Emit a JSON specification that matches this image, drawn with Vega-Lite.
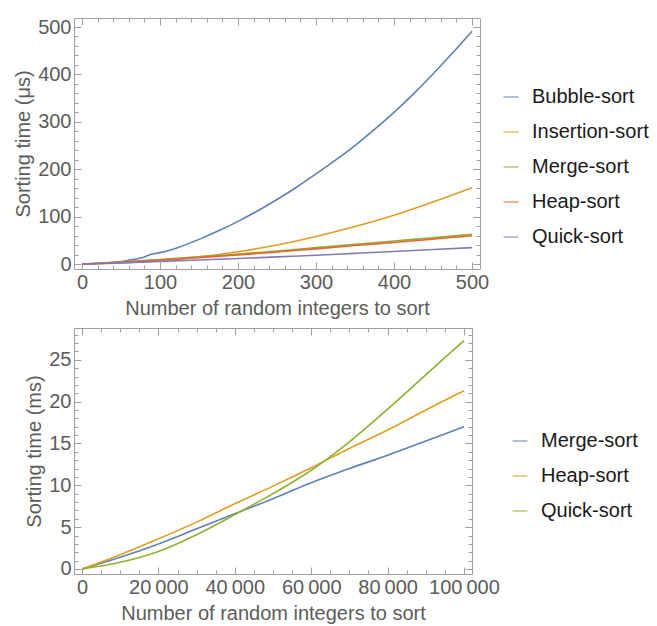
{
  "$schema": "https://vega.github.io/schema/vega-lite/v6.json",
  "padding": {"left": 13, "top": 16, "right": 0, "bottom": 0},
  "background": "white",
  "datasets": {
    "top": [
      {"algo": "Bubble-sort", "n": 0, "t": 0}, {"algo": "Bubble-sort", "n": 20, "t": 1}, {"algo": "Bubble-sort", "n": 40, "t": 3.5}, {"algo": "Bubble-sort", "n": 60, "t": 8}, {"algo": "Bubble-sort", "n": 80, "t": 15}, {"algo": "Bubble-sort", "n": 90, "t": 21}, {"algo": "Bubble-sort", "n": 100, "t": 24}, {"algo": "Bubble-sort", "n": 125, "t": 36}, {"algo": "Bubble-sort", "n": 150, "t": 52}, {"algo": "Bubble-sort", "n": 175, "t": 70}, {"algo": "Bubble-sort", "n": 200, "t": 90}, {"algo": "Bubble-sort", "n": 225, "t": 112}, {"algo": "Bubble-sort", "n": 250, "t": 136}, {"algo": "Bubble-sort", "n": 275, "t": 162}, {"algo": "Bubble-sort", "n": 300, "t": 190}, {"algo": "Bubble-sort", "n": 325, "t": 219}, {"algo": "Bubble-sort", "n": 350, "t": 250}, {"algo": "Bubble-sort", "n": 375, "t": 284}, {"algo": "Bubble-sort", "n": 400, "t": 320}, {"algo": "Bubble-sort", "n": 425, "t": 359}, {"algo": "Bubble-sort", "n": 450, "t": 401}, {"algo": "Bubble-sort", "n": 475, "t": 445}, {"algo": "Bubble-sort", "n": 500, "t": 491},
      {"algo": "Insertion-sort", "n": 0, "t": 0}, {"algo": "Insertion-sort", "n": 50, "t": 2}, {"algo": "Insertion-sort", "n": 100, "t": 7}, {"algo": "Insertion-sort", "n": 150, "t": 15}, {"algo": "Insertion-sort", "n": 200, "t": 26}, {"algo": "Insertion-sort", "n": 250, "t": 40}, {"algo": "Insertion-sort", "n": 300, "t": 58}, {"algo": "Insertion-sort", "n": 350, "t": 79}, {"algo": "Insertion-sort", "n": 400, "t": 103}, {"algo": "Insertion-sort", "n": 450, "t": 131}, {"algo": "Insertion-sort", "n": 500, "t": 161},
      {"algo": "Merge-sort", "n": 0, "t": 0}, {"algo": "Merge-sort", "n": 50, "t": 4}, {"algo": "Merge-sort", "n": 100, "t": 9.5}, {"algo": "Merge-sort", "n": 150, "t": 15}, {"algo": "Merge-sort", "n": 200, "t": 21}, {"algo": "Merge-sort", "n": 250, "t": 27.5}, {"algo": "Merge-sort", "n": 300, "t": 34.5}, {"algo": "Merge-sort", "n": 350, "t": 41.5}, {"algo": "Merge-sort", "n": 400, "t": 48.5}, {"algo": "Merge-sort", "n": 450, "t": 55.5}, {"algo": "Merge-sort", "n": 500, "t": 62.5},
      {"algo": "Heap-sort", "n": 0, "t": 0}, {"algo": "Heap-sort", "n": 50, "t": 3.5}, {"algo": "Heap-sort", "n": 100, "t": 8.5}, {"algo": "Heap-sort", "n": 150, "t": 13.5}, {"algo": "Heap-sort", "n": 200, "t": 19}, {"algo": "Heap-sort", "n": 250, "t": 25.5}, {"algo": "Heap-sort", "n": 300, "t": 32}, {"algo": "Heap-sort", "n": 350, "t": 39}, {"algo": "Heap-sort", "n": 400, "t": 45.5}, {"algo": "Heap-sort", "n": 450, "t": 52.5}, {"algo": "Heap-sort", "n": 500, "t": 59.5},
      {"algo": "Quick-sort", "n": 0, "t": 0}, {"algo": "Quick-sort", "n": 50, "t": 2.5}, {"algo": "Quick-sort", "n": 100, "t": 5.5}, {"algo": "Quick-sort", "n": 150, "t": 8.5}, {"algo": "Quick-sort", "n": 200, "t": 11.5}, {"algo": "Quick-sort", "n": 250, "t": 15}, {"algo": "Quick-sort", "n": 300, "t": 18.5}, {"algo": "Quick-sort", "n": 350, "t": 22.5}, {"algo": "Quick-sort", "n": 400, "t": 26.5}, {"algo": "Quick-sort", "n": 450, "t": 30.5}, {"algo": "Quick-sort", "n": 500, "t": 34.5}
    ],
    "bottom": [
      {"algo": "Merge-sort", "n": 0, "t": 0}, {"algo": "Merge-sort", "n": 10000, "t": 1.4}, {"algo": "Merge-sort", "n": 20000, "t": 3.0}, {"algo": "Merge-sort", "n": 30000, "t": 4.8}, {"algo": "Merge-sort", "n": 40000, "t": 6.6}, {"algo": "Merge-sort", "n": 50000, "t": 8.4}, {"algo": "Merge-sort", "n": 60000, "t": 10.3}, {"algo": "Merge-sort", "n": 70000, "t": 12.0}, {"algo": "Merge-sort", "n": 80000, "t": 13.6}, {"algo": "Merge-sort", "n": 90000, "t": 15.3}, {"algo": "Merge-sort", "n": 100000, "t": 17.0},
      {"algo": "Heap-sort", "n": 0, "t": 0}, {"algo": "Heap-sort", "n": 10000, "t": 1.7}, {"algo": "Heap-sort", "n": 20000, "t": 3.6}, {"algo": "Heap-sort", "n": 30000, "t": 5.6}, {"algo": "Heap-sort", "n": 40000, "t": 7.8}, {"algo": "Heap-sort", "n": 50000, "t": 9.9}, {"algo": "Heap-sort", "n": 60000, "t": 12.1}, {"algo": "Heap-sort", "n": 70000, "t": 14.4}, {"algo": "Heap-sort", "n": 80000, "t": 16.6}, {"algo": "Heap-sort", "n": 90000, "t": 19.0}, {"algo": "Heap-sort", "n": 100000, "t": 21.3},
      {"algo": "Quick-sort", "n": 0, "t": 0}, {"algo": "Quick-sort", "n": 10000, "t": 0.8}, {"algo": "Quick-sort", "n": 20000, "t": 2.1}, {"algo": "Quick-sort", "n": 30000, "t": 4.1}, {"algo": "Quick-sort", "n": 40000, "t": 6.5}, {"algo": "Quick-sort", "n": 50000, "t": 9.0}, {"algo": "Quick-sort", "n": 60000, "t": 11.8}, {"algo": "Quick-sort", "n": 70000, "t": 15.2}, {"algo": "Quick-sort", "n": 80000, "t": 19.1}, {"algo": "Quick-sort", "n": 90000, "t": 23.2}, {"algo": "Quick-sort", "n": 100000, "t": 27.3}
    ]
  },
  "vconcat": [
    {
      "width": 406,
      "height": 251,
      "data": {"name": "top"},
      "layer": [
        {
          "mark": {"type": "line", "strokeWidth": 1.6, "interpolate": "monotone"},
          "encoding": {
            "x": {"field": "n", "type": "quantitative", "scale": {"domain": [-10.3, 510.3], "nice": false, "zero": false},
              "axis": {"orient": "bottom", "values": [0, 100, 200, 300, 400, 500], "tickSize": -7, "labelPadding": 10, "labelFlush": false, "title": "Number of random integers to sort", "titlePadding": 6}},
            "y": {"field": "t", "type": "quantitative", "scale": {"domain": [-10.5, 519], "nice": false, "zero": false},
              "axis": {"orient": "left", "values": [0, 100, 200, 300, 400, 500], "tickSize": -7, "labelPadding": 10, "labelFlush": false, "title": "Sorting time (μs)", "titlePadding": 4}},
            "color": {"field": "algo", "type": "nominal",
              "scale": {"domain": ["Bubble-sort", "Insertion-sort", "Merge-sort", "Heap-sort", "Quick-sort"], "range": ["#5E81B5", "#E19C24", "#8FB032", "#EB6235", "#8778B3"]},
              "legend": {"orient": "none", "legendX": 427, "legendY": 69, "title": null}}
          }
        },
        {
          "mark": {"type": "point", "opacity": 0},
          "encoding": {
            "x": {"field": "n", "type": "quantitative", "axis": {"orient": "bottom", "values": [0, 20, 40, 60, 80, 100, 120, 140, 160, 180, 200, 220, 240, 260, 280, 300, 320, 340, 360, 380, 400, 420, 440, 460, 480, 500], "tickSize": -4, "labels": false, "title": null}},
            "y": {"field": "t", "type": "quantitative", "axis": {"orient": "left", "values": [0, 20, 40, 60, 80, 100, 120, 140, 160, 180, 200, 220, 240, 260, 280, 300, 320, 340, 360, 380, 400, 420, 440, 460, 480, 500], "tickSize": -4, "labels": false, "title": null}}
          }
        },
        {
          "mark": {"type": "point", "opacity": 0},
          "encoding": {
            "x": {"field": "n", "type": "quantitative", "axis": {"orient": "top", "values": [0, 100, 200, 300, 400, 500], "tickSize": -7, "labels": false, "title": null}},
            "y": {"field": "t", "type": "quantitative", "axis": {"orient": "right", "values": [0, 100, 200, 300, 400, 500], "tickSize": -7, "labels": false, "title": null}}
          }
        },
        {
          "mark": {"type": "point", "opacity": 0},
          "encoding": {
            "x": {"field": "n", "type": "quantitative", "axis": {"orient": "top", "values": [0, 20, 40, 60, 80, 100, 120, 140, 160, 180, 200, 220, 240, 260, 280, 300, 320, 340, 360, 380, 400, 420, 440, 460, 480, 500], "tickSize": -4, "labels": false, "title": null}},
            "y": {"field": "t", "type": "quantitative", "axis": {"orient": "right", "values": [0, 20, 40, 60, 80, 100, 120, 140, 160, 180, 200, 220, 240, 260, 280, 300, 320, 340, 360, 380, 400, 420, 440, 460, 480, 500], "tickSize": -4, "labels": false, "title": null}}
          }
        }
      ],
      "resolve": {"axis": {"x": "independent", "y": "independent"}}
    },
    {
      "width": 398,
      "height": 246,
      "data": {"name": "bottom"},
      "layer": [
        {
          "mark": {"type": "line", "strokeWidth": 1.6, "interpolate": "monotone"},
          "encoding": {
            "x": {"field": "n", "type": "quantitative", "scale": {"domain": [-2100, 102100], "nice": false, "zero": false},
              "axis": {"orient": "bottom", "values": [0, 20000, 40000, 60000, 80000, 100000], "tickSize": -7, "labelPadding": 10, "labelFlush": false, "labelOverlap": false, "labelExpr": "replace(format(datum.value, ','), ',', '\u2009')", "title": "Number of random integers to sort", "titlePadding": 6}},
            "y": {"field": "t", "type": "quantitative", "scale": {"domain": [-0.6, 28.8], "nice": false, "zero": false},
              "axis": {"orient": "left", "values": [0, 5, 10, 15, 20, 25], "tickSize": -7, "labelPadding": 10, "labelFlush": false, "title": "Sorting time (ms)", "titlePadding": 4}},
            "color": {"field": "algo", "type": "nominal",
              "scale": {"domain": ["Merge-sort", "Heap-sort", "Quick-sort"], "range": ["#5E81B5", "#E19C24", "#8FB032"]},
              "legend": {"orient": "none", "legendX": 436, "legendY": 103, "title": null}}
          }
        },
        {
          "mark": {"type": "point", "opacity": 0},
          "encoding": {
            "x": {"field": "n", "type": "quantitative", "axis": {"orient": "bottom", "values": [0, 5000, 10000, 15000, 20000, 25000, 30000, 35000, 40000, 45000, 50000, 55000, 60000, 65000, 70000, 75000, 80000, 85000, 90000, 95000, 100000], "tickSize": -4, "labels": false, "title": null}},
            "y": {"field": "t", "type": "quantitative", "axis": {"orient": "left", "values": [0, 1, 2, 3, 4, 5, 6, 7, 8, 9, 10, 11, 12, 13, 14, 15, 16, 17, 18, 19, 20, 21, 22, 23, 24, 25, 26, 27, 28], "tickSize": -4, "labels": false, "title": null}}
          }
        },
        {
          "mark": {"type": "point", "opacity": 0},
          "encoding": {
            "x": {"field": "n", "type": "quantitative", "axis": {"orient": "top", "values": [0, 20000, 40000, 60000, 80000, 100000], "tickSize": -7, "labels": false, "title": null}},
            "y": {"field": "t", "type": "quantitative", "axis": {"orient": "right", "values": [0, 5, 10, 15, 20, 25], "tickSize": -7, "labels": false, "title": null}}
          }
        },
        {
          "mark": {"type": "point", "opacity": 0},
          "encoding": {
            "x": {"field": "n", "type": "quantitative", "axis": {"orient": "top", "values": [0, 5000, 10000, 15000, 20000, 25000, 30000, 35000, 40000, 45000, 50000, 55000, 60000, 65000, 70000, 75000, 80000, 85000, 90000, 95000, 100000], "tickSize": -4, "labels": false, "title": null}},
            "y": {"field": "t", "type": "quantitative", "axis": {"orient": "right", "values": [0, 1, 2, 3, 4, 5, 6, 7, 8, 9, 10, 11, 12, 13, 14, 15, 16, 17, 18, 19, 20, 21, 22, 23, 24, 25, 26, 27, 28], "tickSize": -4, "labels": false, "title": null}}
          }
        }
      ],
      "resolve": {"axis": {"x": "independent", "y": "independent"}}
    }
  ],
  "spacing": 59,
  "bounds": "flush",
  "resolve": {"scale": {"color": "independent"}, "legend": {"color": "independent"}},
  "config": {
    "view": {"stroke": "#a0a0a0", "strokeWidth": 1},
    "axis": {"grid": false, "domain": false, "tickColor": "#a0a0a0", "tickWidth": 1,
      "labelFont": "Liberation Sans", "labelFontSize": 20, "labelColor": "#5c5c5c",
      "titleFont": "Liberation Sans", "titleFontSize": 20, "titleColor": "#5c5c5c", "titleFontWeight": "normal"},
    "legend": {"padding": 0, "symbolType": "stroke", "symbolSize": 225, "symbolStrokeWidth": 1.5, "symbolOpacity": 0.65,
      "labelFont": "Liberation Sans", "labelFontSize": 20, "labelColor": "#1a1a1a", "labelOffset": 11, "rowPadding": 15, "labelLimit": 300}
  }
}
